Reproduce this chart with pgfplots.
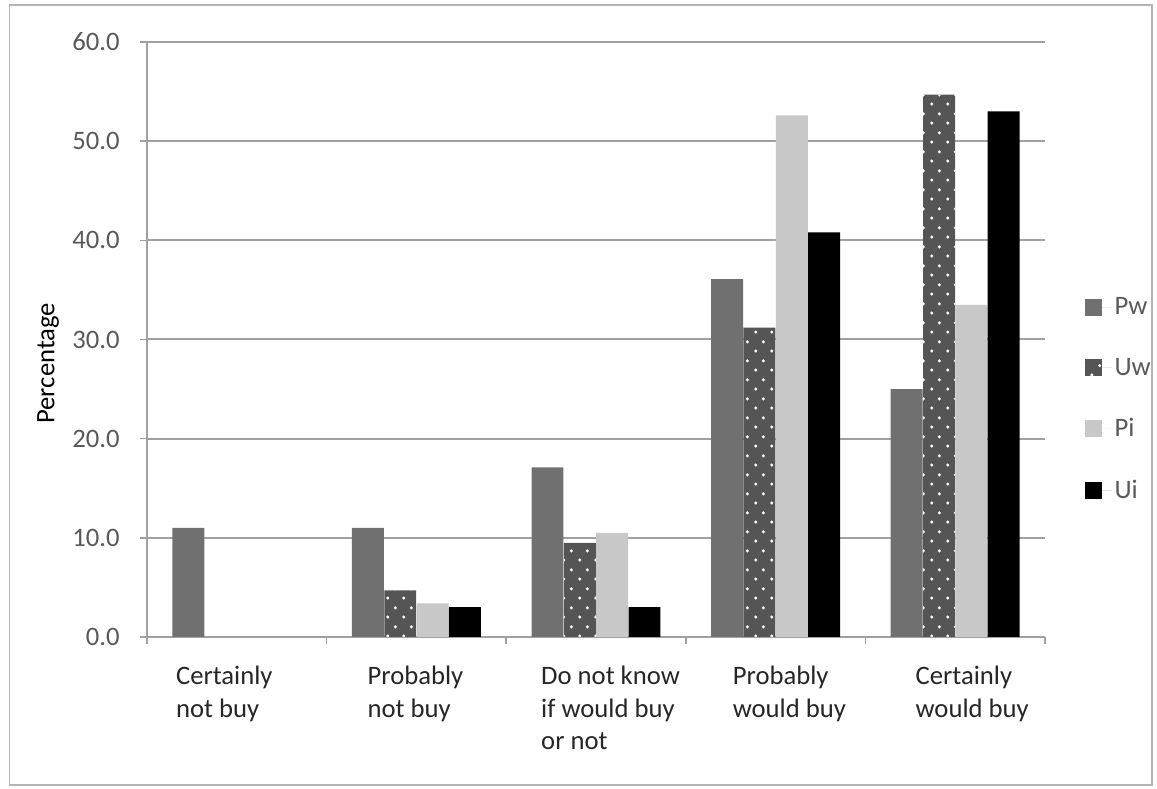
\documentclass[border=0pt]{standalone}
\usepackage{fontspec}
\setmainfont{Carlito}
\usepackage{pgfplots}
\pgfplotsset{compat=1.18}
\usetikzlibrary{patterns.meta}

\definecolor{gridgray}{HTML}{A0A0A0}
\definecolor{framegray}{HTML}{B4B4B4}
\definecolor{pwgray}{HTML}{707070}
\definecolor{uwgray}{HTML}{555555}
\definecolor{pigray}{HTML}{C8C8C8}
\definecolor{ticktext}{HTML}{595959}
\definecolor{labeltext}{HTML}{262626}

\tikzdeclarepattern{
  name=bigdots,
  type=uncolored,
  bounding box={(0pt,0pt) and (12pt,14pt)},
  tile size={(12pt,14pt)},
  code={\fill (3pt,3pt) circle (1.3pt); \fill (9pt,10pt) circle (1.3pt);}
}

\pgfplotsset{
  mylegend/.style={legend image code/.code={\fill[##1] (0pt,-6.4pt) rectangle (12.75pt,6.4pt); \path (0pt,0pt) -- (20pt,0pt);}}
}

\begin{document}
\begin{tikzpicture}
\useasboundingbox (0,0) rectangle (867.75pt,591.75pt);
\draw[framegray, line width=1.2pt] (7.1pt,3pt) rectangle (864pt,588pt);
\begin{axis}[
  at={(110.25pt,114pt)}, anchor=south west,
  scale only axis, width=673.5pt, height=446.25pt,
  xmin=-0.5, xmax=4.5, ymin=0, ymax=60,
  ytick={0,10,...,60},
  axis x line*=bottom, axis y line*=left,
  ymajorgrids,
  major grid style={gridgray, line width=1.5pt},
  axis line style={gridgray, line width=1.5pt},
  tick style={gridgray, line width=1.2pt},
  tick align=outside, major tick length=5pt,
  xtick={-0.5,0.5,...,4.5}, xticklabels={},
  extra x ticks={0,1,2,3,4},
  extra x tick labels={
    {\hspace*{3.4pt}Certainly\\\hspace*{3.4pt}not buy},
    {\hspace*{12.4pt}Probably\\\hspace*{12.4pt}not buy},
    {\hspace*{7.9pt}Do not know\\\hspace*{7.9pt}if would buy\\\hspace*{7.9pt}or not},
    {\hspace*{16.9pt}Probably\\\hspace*{16.9pt}would buy},
    {\hspace*{19.3pt}Certainly\\\hspace*{19.3pt}would buy}},
  extra x tick style={major tick length=0pt, tick style={draw=none}, grid=none,
    xticklabel style={align=left, anchor=north west, xshift=-52.5pt, yshift=-18pt,
      font=\fontsize{20}{24.6}\selectfont, text=labeltext}},
  yticklabel style={font=\fontsize{20}{24}\selectfont, text=ticktext, xshift=-12pt},
  /pgf/number format/.cd, fixed, fixed zerofill, precision=1, assume math mode=true,
  /pgfplots/.cd,
  ylabel=Percentage,
  ylabel style={at={(axis description cs:-0.11,0.46)}, anchor=center, font=\fontsize{20}{24}\selectfont, text=black},
  legend style={at={(axis description cs:1.04,0.58)}, anchor=north west, draw=none, fill=none,
    font=\fontsize{20}{24}\selectfont, text=ticktext, row sep=27pt},
  legend cell align=left,
]
\addplot[ybar, bar width=0.178, bar shift=-0.27, draw=none, fill=pwgray, mylegend]
  coordinates {(0,11.0) (1,11.0) (2,17.1) (3,36.1) (4,25.0)};
\addlegendentry{Pw}
\addplot[ybar, bar width=0.178, bar shift=-0.09, draw=none, fill=uwgray, postaction={pattern={bigdots}, pattern color=white}, mylegend]
  coordinates {(1,4.7) (2,9.5) (3,31.2) (4,54.7)};
\addlegendentry{Uw}
\addplot[ybar, bar width=0.178, bar shift=0.09, draw=none, fill=pigray, mylegend]
  coordinates {(1,3.4) (2,10.5) (3,52.6) (4,33.5)};
\addlegendentry{Pi}
\addplot[ybar, bar width=0.178, bar shift=0.27, draw=none, fill=black, mylegend]
  coordinates {(1,3.0) (2,3.0) (3,40.8) (4,53.0)};
\addlegendentry{Ui}
\end{axis}
\end{tikzpicture}
\end{document}
